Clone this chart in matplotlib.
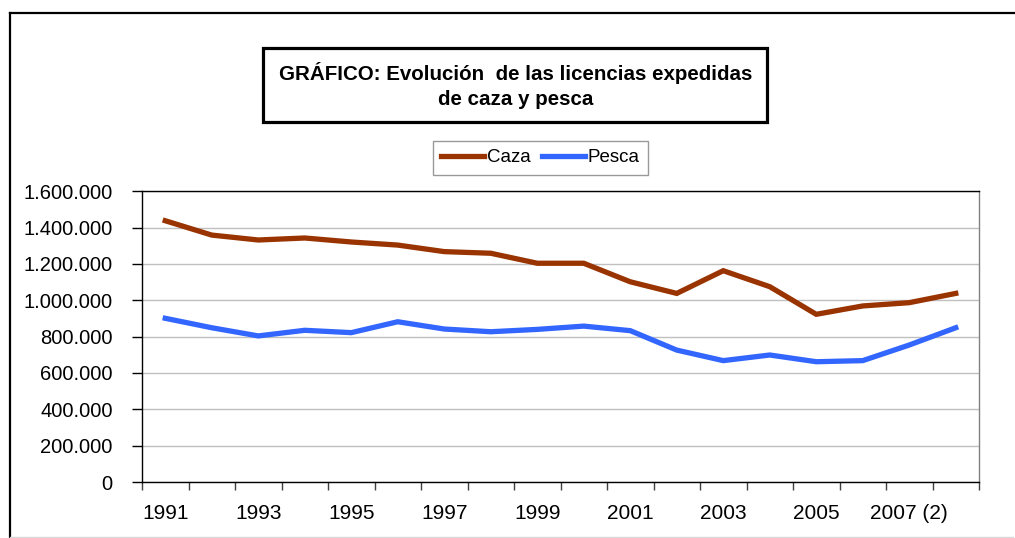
#!/usr/bin/env python3
"""Evolución de las licencias de caza y pesca, 1991-2008."""

import matplotlib
matplotlib.use('Agg')
import matplotlib.pyplot as plt
import matplotlib.ticker as ticker
from matplotlib.lines import Line2D
from matplotlib.patches import Rectangle
import numpy as np

plt.rcParams['font.family'] = ['Liberation Sans', 'DejaVu Sans']

years = ['1991', '1992', '1993', '1994', '1995', '1996', '1997', '1998',
         '1999', '2000', '2001', '2002', '2003', '2004', '2005', '2006',
         '2007 (2)', '2008']
caza = [1438000, 1359000, 1332000, 1343000, 1321000, 1304000, 1268000,
        1259000, 1204000, 1204000, 1102000, 1038000, 1163000, 1075000,
        923000, 969000, 987000, 1038000]
pesca = [901000, 849000, 804000, 835000, 822000, 882000, 842000, 827000,
         840000, 858000, 833000, 726000, 668000, 699000, 662000, 668000,
         754000, 849000]

W, H = 1015, 538
fig = plt.figure(figsize=(W / 100, H / 100), dpi=100)
ax = fig.add_axes([142 / W, 1 - 482 / H, (979 - 142) / W, (482 - 191.3) / H])

x = np.arange(len(years)) + 0.5
ax.plot(x, caza, color='#993300', linewidth=3.8, label='Caza',
        solid_joinstyle='miter', zorder=3)
ax.plot(x, pesca, color='#3366FF', linewidth=3.8, label='Pesca',
        solid_joinstyle='miter', zorder=3)

ax.set_xlim(0, len(years))
ax.set_ylim(0, 1600000)
ax.yaxis.set_major_locator(ticker.MultipleLocator(200000))
ax.yaxis.set_major_formatter(ticker.FuncFormatter(
    lambda v, p: f'{int(v):,}'.replace(',', '.')))
ax.grid(axis='y', color='#c0c0c0', linewidth=1)
ax.set_axisbelow(True)

# tick marks between categories, labels on every other category
ax.set_xticks(np.arange(len(years) + 1))
ax.set_xticklabels([])
ax.set_xticks(x[::2], minor=True)
ax.set_xticklabels(years[::2], minor=True)
ax.tick_params(axis='x', which='major', length=6, width=1, color='#404040')
ax.tick_params(axis='x', which='minor', length=0, pad=16, labelsize=15)
ax.tick_params(axis='y', length=7, width=1, labelsize=14.5, pad=14)

for s in ax.spines.values():
    s.set_linewidth(1)
    s.set_color('black')
ax.spines['right'].set_color('#808080')

# outer frame (cut off at right and bottom)
fig.add_artist(Line2D([10 / W, 1], [1 - 13 / H, 1 - 13 / H],
                      color='black', linewidth=1.6))
fig.add_artist(Line2D([10 / W, 10 / W], [0, 1 - 13 / H],
                      color='black', linewidth=1.6))
fig.add_artist(Line2D([10 / W, 1013 / W], [1.5 / H, 1.5 / H],
                      color='#d8d8d8', linewidth=1))

# title box
fig.add_artist(Rectangle((263 / W, 1 - 122 / H), 504 / W, 74 / H,
                         transform=fig.transFigure, fill=False,
                         edgecolor='black', linewidth=2.3))
fig.text(515.5 / W, 1 - 73 / H,
         'GRÁFICO: Evolución  de las licencias expedidas',
         ha='center', va='center', fontsize=14.8, fontweight='bold')
fig.text(515.5 / W, 1 - 100 / H, 'de caza y pesca',
         ha='center', va='center', fontsize=14.8, fontweight='bold')

leg = fig.legend(loc='center', bbox_to_anchor=(540.5 / W, 1 - 157.5 / H),
                 ncol=2, fontsize=13.5, frameon=True, fancybox=False,
                 handlelength=2.3, handletextpad=0.15, columnspacing=0.6,
                 borderpad=0.45, borderaxespad=0)
leg.get_frame().set_edgecolor('#808080')
leg.get_frame().set_linewidth(1)

fig.savefig('out.png', dpi=100)
